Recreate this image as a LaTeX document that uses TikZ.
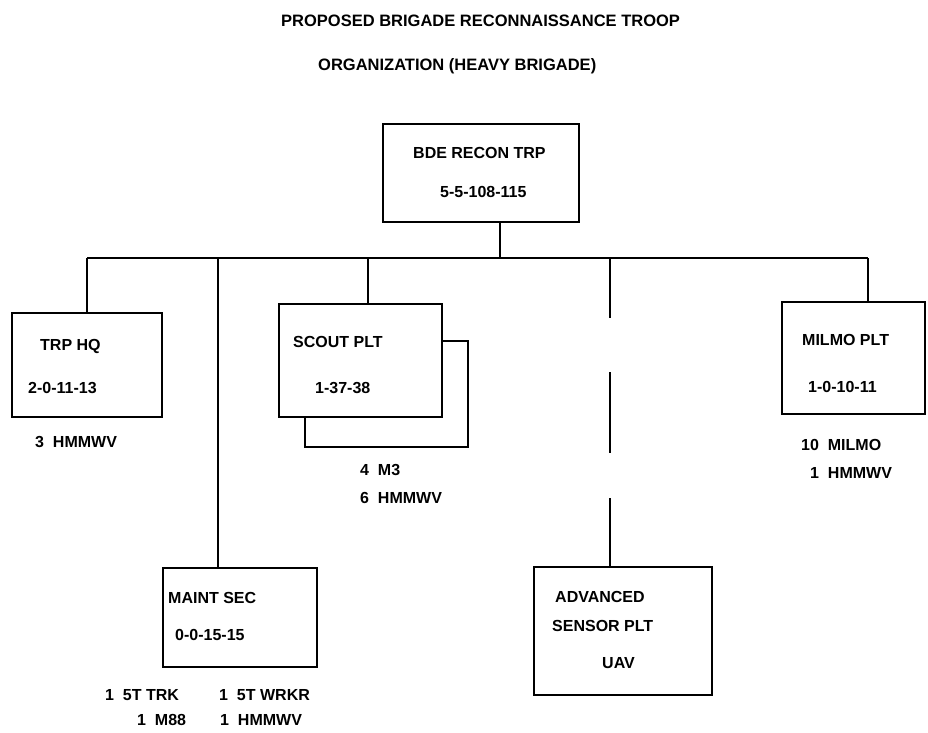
\documentclass[tikz,border=0pt]{standalone}
\usepackage{fontspec}
\setmainfont{Liberation Sans}
\begin{document}
\begin{tikzpicture}[x=1pt,y=-1pt,
  box/.style={draw, line width=1.6pt, fill=white, rectangle, inner sep=0pt},
  conn/.style={line width=1.6pt},
  lbl/.style={anchor=base west, inner sep=0pt, font=\fontsize{16}{19}\selectfont\bfseries},
  ttl/.style={anchor=base west, inner sep=0pt, font=\fontsize{16.5}{19}\selectfont\bfseries}]
\useasboundingbox (0,0) rectangle (928,732);
% title
\node[ttl] (t1) at (281,26) {PROPOSED BRIGADE RECONNAISSANCE TROOP};
\node[ttl] (t2) at (318,70) {ORGANIZATION (HEAVY BRIGADE)};
% boxes
\node[box, minimum width=196pt, minimum height=98pt] (top) at (481,173) {};
\node[box, minimum width=150pt, minimum height=104pt] (hq) at (87,365) {};
\node[box, minimum width=163pt, minimum height=106pt] (scoutb) at (386.5,394) {};
\node[box, minimum width=163pt, minimum height=113pt] (scout) at (360.5,360.5) {};
\node[box, minimum width=154pt, minimum height=99pt] (maint) at (240,617.5) {};
\node[box, minimum width=178pt, minimum height=128pt] (adv) at (623,631) {};
\node[box, minimum width=143pt, minimum height=112pt] (milmo) at (853.5,358) {};
% connectors
\coordinate (bus) at (0,258);
\draw[conn] ([xshift=19pt]top.south) -- ([xshift=19pt]top.south |- bus);
\draw[conn] (hq.north |- bus) -- ([xshift=14.5pt]milmo.north |- bus);
\draw[conn] (hq.north |- bus) -- (hq.north);
\draw[conn] ([xshift=-22pt]maint.north |- bus) -- ([xshift=-22pt]maint.north);
\draw[conn] ([xshift=7.5pt]scout.north |- bus) -- ([xshift=7.5pt]scout.north);
\draw[conn, dash pattern=on 60pt off 54pt on 81pt off 45pt on 80pt off 10pt] ([xshift=-13pt]adv.north |- bus) -- ([xshift=-13pt]adv.north);
\draw[conn] ([xshift=14.5pt]milmo.north |- bus) -- ([xshift=14.5pt]milmo.north);
% texts
\node[lbl] (topa) at (413,158.5) {BDE RECON TRP};
\node[lbl] (topb) at (440,197.5) {5-5-108-115};
\node[lbl] (hqa) at (40,350.5) {TRP HQ};
\node[lbl] (hqb) at (28,393.5) {2-0-11-13};
\node[lbl] (hqc) at (35,447.5) {3\ \ HMMWV};
\node[lbl] (sca) at (293,347.5) {SCOUT PLT};
\node[lbl] (scb) at (315,393.5) {1-37-38};
\node[lbl] (scc) at (360,475.5) {4\ \ M3};
\node[lbl] (scd) at (360,503.5) {6\ \ HMMWV};
\node[lbl] (mta) at (168,603.5) {MAINT SEC};
\node[lbl] (mtb) at (175,640.5) {0-0-15-15};
\node[lbl] (mtc) at (105,700.5) {1\ \ 5T TRK};
\node[lbl] (mtd) at (219,700.5) {1\ \ 5T WRKR};
\node[lbl] (mte) at (137,725.5) {1\ \ M88};
\node[lbl] (mtf) at (220,725.5) {1\ \ HMMWV};
\node[lbl] (ada) at (555,602.5) {ADVANCED};
\node[lbl] (adb) at (552,631.5) {SENSOR PLT};
\node[lbl] (adc) at (602,668.5) {UAV};
\node[lbl] (mla) at (802,345.5) {MILMO PLT};
\node[lbl] (mlb) at (808,392.5) {1-0-10-11};
\node[lbl] (mlc) at (801,450.5) {10\ \ MILMO};
\node[lbl] (mld) at (810,478.5) {1\ \ HMMWV};
\end{tikzpicture}
\end{document}
